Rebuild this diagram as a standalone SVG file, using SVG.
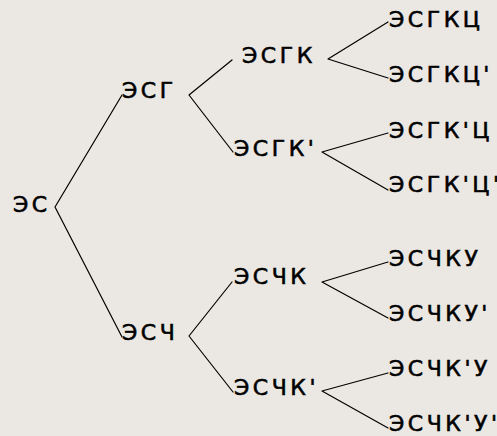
<svg xmlns="http://www.w3.org/2000/svg" width="497" height="436" viewBox="0 0 497 436">
  <style>
    .bg { fill: #ebe7e3; }
    .edge { stroke: #000; stroke-width: 1.2; fill: none; stroke-linecap: round; stroke-linejoin: round; }
    .lbl { font-family: "DejaVu Sans", "Liberation Sans", sans-serif; font-size: 22px; letter-spacing: 3.5px; fill: #000; stroke: #000; stroke-width: 0.6; }
  </style>
  <rect class="bg" x="0" y="0" width="497" height="436"/>

  <!-- connectors: each fork is one polyline through its branching point -->
  <g id="edges">
    <polyline class="edge" points="122,95 55,207 122,337"/>
    <polyline class="edge" points="232,60 189,95 233,152"/>
    <polyline class="edge" points="232,282 189,336 233,392"/>
    <polyline class="edge" points="388,22 328,59 388,78"/>
    <polyline class="edge" points="388,133 322,152 388,190"/>
    <polyline class="edge" points="388,262 322,282 388,318"/>
    <polyline class="edge" points="388,373 322,391 388,428"/>
  </g>

  <g id="n-es"><text class="lbl" x="13" y="212">ЭС</text></g>

  <g id="n-esg"><text class="lbl" x="122" y="98">ЭСГ</text></g>
  <g id="n-esch"><text class="lbl" x="122" y="340">ЭСЧ</text></g>

  <g id="n-esgk"><text class="lbl" x="242" y="63">ЭСГК</text></g>
  <g id="n-esgk2"><text class="lbl" x="234" y="156">ЭСГК'</text></g>
  <g id="n-eschk"><text class="lbl" x="234" y="284">ЭСЧК</text></g>
  <g id="n-eschk2"><text class="lbl" x="234" y="395">ЭСЧК'</text></g>

  <g id="n-esgkc"><text class="lbl" x="389" y="27">ЭСГКЦ</text></g>
  <g id="n-esgkc2"><text class="lbl" x="389" y="82">ЭСГКЦ'</text></g>
  <g id="n-esgk2c"><text class="lbl" x="389" y="138">ЭСГК'Ц</text></g>
  <g id="n-esgk2c2"><text class="lbl" x="389" y="192">ЭСГК'Ц'</text></g>
  <g id="n-eschku"><text class="lbl" x="389" y="266">ЭСЧКУ</text></g>
  <g id="n-eschku2"><text class="lbl" x="389" y="321">ЭСЧКУ'</text></g>
  <g id="n-eschk2u"><text class="lbl" x="389" y="376">ЭСЧК'У</text></g>
  <g id="n-eschk2u2"><text class="lbl" x="389" y="431">ЭСЧК'У'</text></g>
</svg>
